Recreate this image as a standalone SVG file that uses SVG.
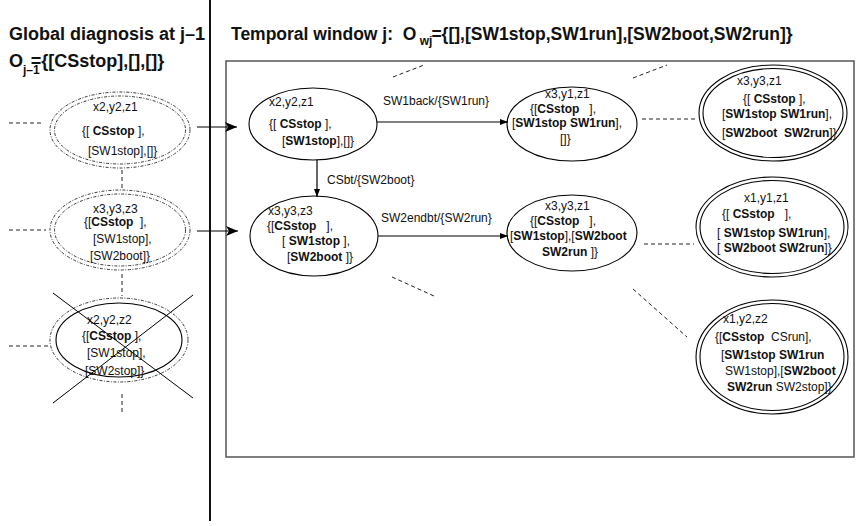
<svg xmlns="http://www.w3.org/2000/svg" width="861" height="526" viewBox="0 0 861 526">
  <style>
    text { font-family: "Liberation Sans", Arial, sans-serif; white-space: pre; fill: #111; }
    .hd { font-size: 17.5px; font-weight: bold; }
    .hd2 { font-size: 18px; font-weight: bold; }
    .sub { font-size: 12px; font-weight: bold; }
    .t { font-size: 12px; }
    .b { font-weight: bold; }
    .edge { fill: none; stroke: #000; stroke-width: 1.2; }
    .dash { fill: none; stroke: #222; stroke-width: 1; stroke-dasharray: 4 3; }
    .dd { fill: none; stroke: #222; stroke-width: 0.9; stroke-dasharray: 3 1.5 1 1.5; }
    .st { fill: none; stroke: #000; stroke-width: 1.1; }
  </style>
  <defs>
    <marker id="bigHead" viewBox="0 0 12 10" refX="12" refY="5" markerWidth="12" markerHeight="10" markerUnits="userSpaceOnUse" orient="auto">
      <path d="M0,0 L12,5 L0,10 L3,5 z" fill="#000"/>
    </marker>
    <marker id="smallHead" viewBox="0 0 8 6" refX="8" refY="3" markerWidth="8" markerHeight="6" markerUnits="userSpaceOnUse" orient="auto">
      <path d="M0,0 L8,3 L0,6 z" fill="#000"/>
    </marker>
  </defs>

  <rect width="861" height="526" fill="#fff"/>

  <!-- headings -->
  <text class="hd2" x="9" y="40">Global diagnosis at j–1</text>
  <text class="hd2" x="9" y="67">O<tspan class="sub" dy="7">j–1</tspan><tspan dy="-7" dx="-9">={[CSstop],[],[]}</tspan></text>
  <text class="hd" x="231" y="40">Temporal window j:  O<tspan class="sub" dy="5"> wj</tspan><tspan dy="-5" dx="-1">={[],[SW1stop,SW1run],[SW2boot,SW2run]}</tspan></text>

  <!-- separator and window frame -->
  <line x1="210" y1="0" x2="210" y2="521" stroke="#111" stroke-width="2"/>
  <rect x="226" y="61" width="628" height="396" fill="none" stroke="#555" stroke-width="1.5"/>

  <!-- previous diagnosis states -->
  <g id="prev1">
    <ellipse class="dd" cx="120" cy="130" rx="70" ry="38"/>
    <ellipse class="dd" cx="120" cy="130" rx="65.5" ry="34"/>
    <text class="t" x="93" y="111">x2,y2,z1</text>
    <text class="t" x="82" y="135">{[ <tspan class="b">CSstop</tspan> ],</text>
    <text class="t" x="88" y="155">[SW1stop],[]}</text>
  </g>
  <g id="prev2">
    <ellipse class="dd" cx="120" cy="230" rx="70" ry="40"/>
    <ellipse class="dd" cx="120" cy="230" rx="65.5" ry="36"/>
    <text class="t" x="93" y="213">x3,y3,z3</text>
    <text class="t" x="84" y="226">{[<tspan class="b">CSstop</tspan>  ],</text>
    <text class="t" x="93" y="243">[SW1stop],</text>
    <text class="t" x="90" y="260">[SW2boot]}</text>
  </g>
  <g id="prev3">
    <ellipse class="dd" cx="119" cy="340" rx="69" ry="42"/>
    <ellipse class="st" cx="119" cy="340" rx="63" ry="37"/>
    <text class="t" x="87" y="324">x2,y2,z2</text>
    <text class="t" x="82" y="340">{[<tspan class="b">CSstop</tspan> ],</text>
    <text class="t" x="87" y="357">[SW1stop],</text>
    <text class="t" x="85" y="375">[SW2stop]}</text>
    <line x1="53" y1="293" x2="193" y2="398" stroke="#000" stroke-width="1"/>
    <line x1="53" y1="403" x2="193" y2="295" stroke="#000" stroke-width="1"/>
  </g>

  <!-- states of window j -->
  <g id="A">
    <ellipse class="st" cx="313" cy="124" rx="64" ry="36"/>
    <text class="t" x="269" y="106">x2,y2,z1</text>
    <text class="t" x="269" y="128">{[ <tspan class="b">CSstop</tspan> ],</text>
    <text class="t" x="282" y="145">[<tspan class="b">SW1stop</tspan>],[]}</text>
  </g>
  <g id="B">
    <ellipse class="st" cx="572" cy="124" rx="65" ry="37"/>
    <text class="t" x="545" y="98">x3,y1,z1</text>
    <text class="t" x="530" y="113">{[<tspan class="b">CSstop</tspan>   ],</text>
    <text class="t" x="512" y="127">[<tspan class="b">SW1stop SW1run</tspan>],</text>
    <text class="t" x="560" y="143">[]}</text>
  </g>
  <g id="C">
    <ellipse class="st" cx="314" cy="236" rx="64" ry="40"/>
    <text class="t" x="268" y="215">x3,y3,z3</text>
    <text class="t" x="267" y="230">{[<tspan class="b">CSstop</tspan>   ],</text>
    <text class="t" x="282" y="245">[ <tspan class="b">SW1stop</tspan> ],</text>
    <text class="t" x="287" y="261">[<tspan class="b">SW2boot</tspan> ]}</text>
  </g>
  <g id="D">
    <ellipse class="st" cx="572" cy="233" rx="65" ry="38"/>
    <text class="t" x="545" y="210">x3,y3,z1</text>
    <text class="t" x="530" y="225">{[<tspan class="b">CSstop</tspan>   ],</text>
    <text class="t" x="510" y="240">[<tspan class="b">SW1stop</tspan>],[<tspan class="b">SW2boot</tspan></text>
    <text class="t" x="542" y="256"><tspan class="b">SW2run</tspan> ]}</text>
  </g>
  <g id="E">
    <ellipse class="st" cx="773" cy="113" rx="74" ry="48"/>
    <ellipse class="st" cx="773" cy="113" rx="70" ry="44.5"/>
    <text class="t" x="737" y="85">x3,y3,z1</text>
    <text class="t" x="743" y="103">{[ <tspan class="b">CSstop</tspan> ],</text>
    <text class="t" x="722" y="118">[<tspan class="b">SW1stop SW1run</tspan>],</text>
    <text class="t" x="722" y="137">[<tspan class="b">SW2boot  SW2run</tspan>]}</text>
  </g>
  <g id="F">
    <ellipse class="st" cx="772" cy="227" rx="76" ry="50"/>
    <ellipse class="st" cx="772" cy="227" rx="72" ry="46.5"/>
    <text class="t" x="744" y="202">x1,y1,z1</text>
    <text class="t" x="722" y="218">{[ <tspan class="b">CSstop</tspan>   ],</text>
    <text class="t" x="717" y="237">[ <tspan class="b">SW1stop SW1run</tspan>],</text>
    <text class="t" x="717" y="252">[ <tspan class="b">SW2boot SW2run</tspan>]}</text>
  </g>
  <g id="G">
    <ellipse class="st" cx="772" cy="357" rx="76" ry="57"/>
    <ellipse class="st" cx="772" cy="357" rx="72" ry="53.5"/>
    <text class="t" x="723" y="323">x1,y2,z2</text>
    <text class="t" x="715" y="341">{[<tspan class="b">CSstop</tspan>  CSrun],</text>
    <text class="t" x="721" y="359">[<tspan class="b">SW1stop SW1run</tspan></text>
    <text class="t" x="725" y="375">SW1stop],[<tspan class="b">SW2boot</tspan></text>
    <text class="t" x="727" y="391"><tspan class="b">SW2run</tspan> SW2stop]}</text>
  </g>

  <!-- connectors -->
  <g id="connectors">
    <!-- incoming context from earlier windows -->
    <line class="dash" x1="9" y1="123" x2="44" y2="123"/>
    <line class="dash" x1="9" y1="230" x2="46" y2="230"/>
    <line class="dash" x1="9" y1="346" x2="48" y2="346"/>
    <line class="dash" x1="122" y1="170" x2="122" y2="189" stroke-dasharray="3 2"/>
    <line class="dash" x1="122" y1="274" x2="122" y2="296" stroke-dasharray="3 2"/>
    <line class="dash" x1="122" y1="394" x2="122" y2="414" stroke-dasharray="3 2"/>

    <!-- mapping into window j -->
    <line class="edge" x1="197" y1="127" x2="237" y2="127" marker-end="url(#bigHead)"/>
    <line class="edge" x1="197" y1="231" x2="238" y2="231" marker-end="url(#bigHead)"/>

    <!-- transitions -->
    <line class="edge" x1="377" y1="122" x2="508" y2="122" marker-end="url(#smallHead)"/>
    <text class="t" x="383" y="105">SW1back/{SW1run}</text>
    <line class="edge" x1="317" y1="160" x2="317" y2="197" marker-end="url(#smallHead)"/>
    <text class="t" x="327" y="184">CSbt/{SW2boot}</text>
    <line class="edge" x1="378" y1="236" x2="508" y2="236" marker-end="url(#smallHead)"/>
    <text class="t" x="381" y="222">SW2endbt/{SW2run}</text>

    <!-- continuations -->
    <line class="dash" x1="393" y1="77" x2="424" y2="65"/>
    <line class="dash" x1="633" y1="78" x2="667" y2="65"/>
    <line class="dash" x1="642" y1="119" x2="696" y2="119"/>
    <line class="dash" x1="644" y1="244" x2="694" y2="244"/>
    <line class="dash" x1="392" y1="277" x2="434" y2="296"/>
    <line class="dash" x1="633" y1="289" x2="687" y2="337"/>
  </g>
</svg>
